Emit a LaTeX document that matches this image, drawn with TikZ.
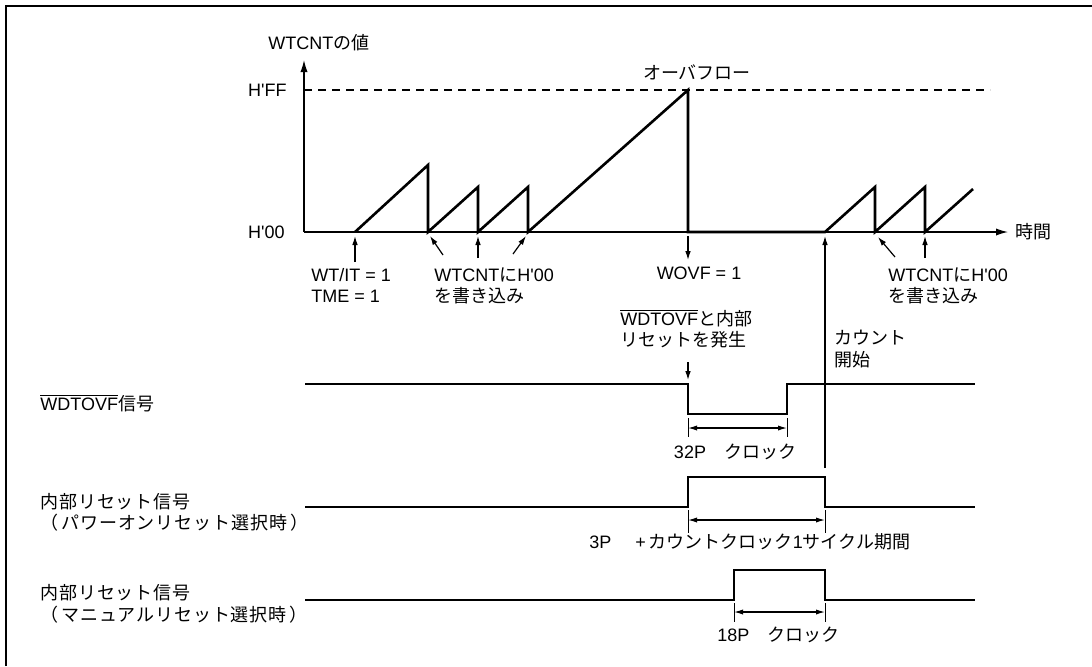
\documentclass[tikz,border=0pt]{standalone}
\usepackage{fontspec}
\setmainfont{Liberation Sans}
\newfontfamily\jpfont{Noto Sans CJK JP}
\newfontfamily\jpwide[LetterSpace=5]{Noto Sans CJK JP}
\newcommand\J[1]{{\jpfont #1}}
\newcommand\JW[1]{{\jpwide #1}}
\newcommand\ovl[1]{$\overline{\mbox{#1}}$}
\newcommand\Q{\textquotesingle}
\usetikzlibrary{arrows.meta}
\begin{document}
\begin{tikzpicture}[x=0.5pt,y=-0.5pt,
  lbl/.style={inner sep=0pt, font=\fontsize{9}{10.5}\selectfont},
  sig/.style={line width=1.3pt, line join=miter},
  ann/.style={line width=0.6pt, -{Latex[length=4.5pt,width=2.8pt]}},
  axarrow/.style={line width=0.6pt, -{Latex[length=6pt,width=3.6pt]}},
  dimarrow/.style={line width=0.6pt, {Latex[length=4.5pt,width=2.6pt]}-{Latex[length=4.5pt,width=2.6pt]}},
  tickline/.style={line width=0.5pt},
  hff/.style={line width=0.6pt, dash pattern=on 4pt off 3pt}]

\useasboundingbox (0,0) rectangle (1092,666);
\draw[line width=1.1pt] (6,666) -- (6,6) -- (1092,6);

% axes
\coordinate (O) at (304,232);
\coordinate (ytop) at (304,60);
\coordinate (xend) at (1008,232);
\coordinate (ffl) at (304,90);
\coordinate (ffr) at (990,90);
\draw[axarrow] (O) -- (ytop);
\draw[axarrow] (O) -- (xend);
\draw[hff] (ffl) -- (ffr);

\node[lbl, anchor=west] (ylab) at (268,43) {WTCNT\J{の値}};
\node[lbl, anchor=east] (hffl) at (287,90) {H\Q FF};
\node[lbl, anchor=east] (h00l) at (285,232) {H\Q 00};
\node[lbl, anchor=west] (tlab) at (1015,232) {\J{時間}};
\node[lbl] (ovf) at (697,72) {\J{オーバフロー}};

% sawtooth
\coordinate (s0) at (355,232);
\coordinate (r1) at (428,232);
\coordinate (r2) at (478,232);
\coordinate (r3) at (528,232);
\coordinate (ovp) at (688,232);
\coordinate (cs) at (825,232);
\coordinate (r4) at (875,232);
\coordinate (r5) at (925,232);
\draw[sig] (s0) -- (428,165) -- (r1) -- (478,187) -- (r2) -- (528,187) -- (r3)
  -- (688,90) -- (ovp) -- (cs) -- (875,187) -- (r4) -- (925,187) -- (r5) -- (973,189);

% annotation arrows
\coordinate (a1) at (355,262);
\coordinate (a1t) at (355,236);
\draw[ann] (a1) -- (a1t);
\coordinate (a2) at (443,255);
\coordinate (a2t) at (430,236);
\draw[ann] (a2) -- (a2t);
\coordinate (a3) at (478,258);
\coordinate (a3t) at (478,236);
\draw[ann] (a3) -- (a3t);
\coordinate (a4) at (513,254);
\coordinate (a4t) at (526,236);
\draw[ann] (a4) -- (a4t);
\coordinate (a5) at (688,236);
\coordinate (a5t) at (688,260);
\draw[ann] (a5) -- (a5t);
\coordinate (a6) at (895,257);
\coordinate (a6t) at (878,237);
\draw[ann] (a6) -- (a6t);
\coordinate (a7) at (925,258);
\coordinate (a7t) at (925,236);
\draw[ann] (a7) -- (a7t);
\coordinate (a8) at (825,468);
\coordinate (a8t) at (825,236);
\draw[ann] (a8) -- (a8t);
\coordinate (a9) at (688,362);
\coordinate (a9t) at (688,380);
\draw[ann] (a9) -- (a9t);

% labels under the axis
\node[lbl, anchor=west] (wtit) at (311,275) {WT/IT = 1};
\node[lbl, anchor=west] (tme) at (311,296) {TME = 1};
\node[lbl, anchor=west] (wr1a) at (434,275) {WTCNT\J{に}H\Q 00};
\node[lbl, anchor=west] (wr1b) at (434,296) {\J{を書き込み}};
\node[lbl] (wovf) at (699,273) {WOVF = 1};
\node[lbl, anchor=west] (wr2a) at (888,275) {WTCNT\J{に}H\Q 00};
\node[lbl, anchor=west] (wr2b) at (888,296) {\J{を書き込み}};
\node[lbl, anchor=west] (gen1) at (620,318) {\ovl{WDTOVF}\J{と内部}};
\node[lbl, anchor=west] (gen2) at (620,340) {\J{リセットを発生}};
\node[lbl, anchor=west] (cnt1) at (834,338) {\J{カウント}};
\node[lbl, anchor=west] (cnt2) at (834,360) {\J{開始}};

% left signal labels
\node[lbl, anchor=west] (l1) at (40,403) {\ovl{WDTOVF}\J{信号}};
\node[lbl, anchor=west] (l2a) at (40,502) {\JW{内部リセット信号}};
\node[lbl, anchor=west] (l2b) at (40,523) {\JW{（\,パワーオンリセット選択時\,）}};
\node[lbl, anchor=west] (l3a) at (40,593) {\JW{内部リセット信号}};
\node[lbl, anchor=west] (l3b) at (40,615) {\JW{（\,マニュアルリセット選択時\,）}};

% WDTOVF signal
\draw[sig] (305,384) -- (688,384) -- (688,414) -- (787,414) -- (787,384) -- (975,384);
\coordinate (d1l) at (688,428);
\coordinate (d1r) at (787,428);
\draw[tickline] (688,418) -- (688,437) (787,418) -- (787,437);
\draw[dimarrow] (d1l) -- (d1r);
\node[lbl] (c32) at (735,452) {32P\J{　クロック}};

% power-on reset signal
\draw[sig] (305,507) -- (688,507) -- (688,477) -- (825,477) -- (825,507) -- (975,507);
\coordinate (d2l) at (688,520);
\coordinate (d2r) at (825,520);
\draw[tickline] (688,510) -- (688,533) (825,510) -- (825,533);
\draw[dimarrow] (d2l) -- (d2r);
\node[lbl, anchor=west] (c3) at (589,542) {3P\hspace{12pt}+\,\J{カウントクロック}1\J{サイクル期間}};

% manual reset signal
\draw[sig] (305,600) -- (734,600) -- (734,570) -- (825,570) -- (825,600) -- (975,600);
\coordinate (d3l) at (734,612);
\coordinate (d3r) at (825,612);
\draw[tickline] (734,603) -- (734,622) (825,603) -- (825,622);
\draw[dimarrow] (d3l) -- (d3r);
\node[lbl, anchor=west] (c18) at (717,635) {18P\J{　クロック}};

\end{tikzpicture}
\end{document}
